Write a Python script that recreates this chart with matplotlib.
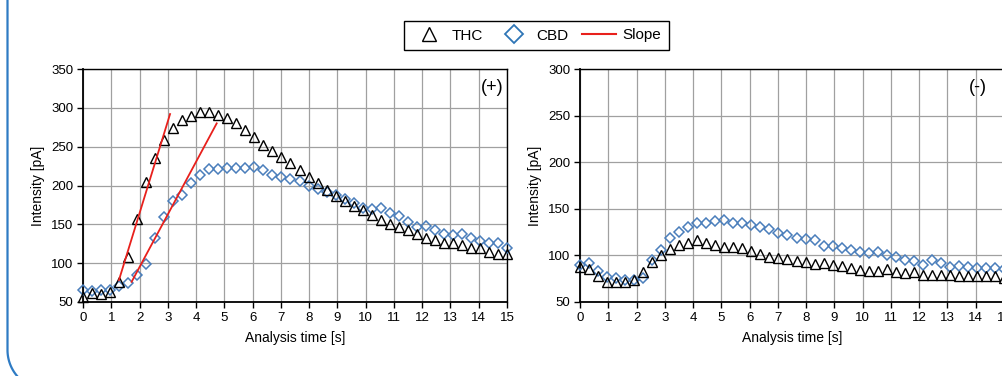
import numpy as np
import matplotlib
matplotlib.use("Agg")
import matplotlib.pyplot as plt
from matplotlib.lines import Line2D

plt.rcParams['font.family'] = ['Liberation Sans', 'DejaVu Sans']

# ---------------- data ----------------
time_s = [0.00, 0.32, 0.64, 0.96, 1.28, 1.60, 1.91, 2.23, 2.55, 2.87, 3.19, 3.51,
          3.83, 4.15, 4.47, 4.79, 5.11, 5.43, 5.74, 6.06, 6.38, 6.70, 7.02, 7.34,
          7.66, 7.98, 8.30, 8.62, 8.94, 9.26, 9.57, 9.89, 10.21, 10.53, 10.85, 11.17,
          11.49, 11.81, 12.13, 12.45, 12.77, 13.09, 13.40, 13.72, 14.04, 14.36, 14.68, 15.00]

thc_pos = [57, 62, 60, 63, 76, 108, 157, 204, 235, 259, 274, 284,
           290, 295, 295, 291, 287, 281, 272, 262, 252, 245, 237, 229,
           220, 211, 203, 194, 186, 180, 174, 168, 162, 155, 150, 147,
           143, 138, 133, 130, 126, 126, 123, 120, 119, 115, 112, 112]
cbd_pos = [65, 64, 66, 66, 71, 74, 85, 99, 133, 160, 180, 188,
           203, 213, 221, 221, 222, 222, 223, 224, 220, 214, 211, 209,
           206, 199, 196, 192, 188, 182, 177, 171, 170, 171, 164, 161,
           153, 147, 148, 143, 138, 136, 137, 132, 128, 126, 126, 120]

thc_neg = [87.5, 85.5, 78, 71, 71, 71, 74, 82, 93, 100, 107, 111,
           113, 116, 113, 111, 109, 109, 108, 105, 101.5, 98, 97, 96,
           94, 92.5, 91, 92, 90, 89, 86.5, 84, 83, 83, 85, 82,
           81, 82, 79.5, 79.5, 79.5, 79.5, 78, 78, 78, 78, 78, 76]
cbd_neg = [90, 92, 83, 76.5, 76, 74, 74, 76, 95, 106, 119, 125,
           131, 135, 135, 136.5, 138, 135, 135, 133, 131, 128.5, 124, 122,
           118.5, 117.5, 117, 110, 110, 108, 106, 104, 103, 104, 100.5, 98,
           95.5, 93.5, 90, 95.5, 92, 88, 89, 88, 86.5, 86.5, 86.5, 85]

slope_thc_t = [1.27, 3.08]
slope_thc_y = [78, 292]
slope_cbd_t = [1.72, 4.73]
slope_cbd_y = [76, 280]

x_ticks = list(range(0, 16))
y_ticks_pos = [50, 100, 150, 200, 250, 300, 350]
y_ticks_neg = [50, 100, 150, 200, 250, 300]

# ---------------- style ----------------
W, H = 1003, 376
fig = plt.figure(figsize=(W / 100, H / 100), dpi=100)
fig.patch.set_facecolor('white')

CBD_COLOR = '#4a7ebb'
SLOPE_COLOR = '#e8201c'
GRID = '#a0a0a0'


def px_rect(x0, x1, ytop, ybot):
    return [x0 / W, 1 - ybot / H, (x1 - x0) / W, (ybot - ytop) / H]


def style_axes(ax, yticks, ylim):
    ax.set_xlim(0, 15)
    ax.set_ylim(*ylim)
    ax.set_xticks(x_ticks)
    ax.set_yticks(yticks)
    ax.grid(True, color=GRID, lw=0.9)
    ax.set_axisbelow(True)
    for side in ['left', 'bottom']:
        ax.spines[side].set_linewidth(1.3)
        ax.spines[side].set_color('black')
    for side in ['top', 'right']:
        ax.spines[side].set_linewidth(1.0)
        ax.spines[side].set_color('black')
    ax.tick_params(direction='out', length=4, width=1, labelsize=9.5,
                   colors='black', pad=3)
    ax.set_xlabel('Analysis time [s]', fontsize=10, labelpad=5)
    ax.set_ylabel('Intensity [pA]', fontsize=10, labelpad=4)


ax1 = fig.add_axes(px_rect(83, 507, 69, 302))
ax2 = fig.add_axes(px_rect(580, 1004, 69, 302))

for ax, thc, cbd, yt, yl in [(ax1, thc_pos, cbd_pos, y_ticks_pos, (50, 350)),
                             (ax2, thc_neg, cbd_neg, y_ticks_neg, (50, 300))]:
    style_axes(ax, yt, yl)
    ax.plot(time_s, cbd, ls='none', marker='D', ms=5.2, mfc='none',
            mec=CBD_COLOR, mew=1.1, clip_on=False, zorder=3)
    ax.plot(time_s, thc, ls='none', marker='^', ms=7, mfc='none',
            mec='black', mew=1.0, clip_on=False, zorder=4)

ax1.plot(slope_thc_t, slope_thc_y, color=SLOPE_COLOR, lw=1.3, zorder=5)
ax1.plot(slope_cbd_t, slope_cbd_y, color=SLOPE_COLOR, lw=1.3, zorder=5)

ax1.text(0.992, 0.955, '(+)', transform=ax1.transAxes, ha='right', va='top',
         fontsize=13)
ax2.text(0.96, 0.955, '(-)', transform=ax2.transAxes, ha='right', va='top',
         fontsize=13)

# legend
handles = [Line2D([], [], ls='none', marker='^', ms=10, mfc='none', mec='black', mew=1.0),
           Line2D([], [], ls='none', marker='D', ms=9, mfc='none', mec='#2e75b6', mew=1.3),
           Line2D([], [], color=SLOPE_COLOR, lw=1.5)]
leg = fig.legend(handles, ['THC', 'CBD', 'Slope'], loc='center',
                 bbox_to_anchor=(536.5 / W, 1 - 35.5 / H), ncol=3, fontsize=11,
                 frameon=True, fancybox=False, framealpha=1, edgecolor='black',
                 handlelength=2.2, handletextpad=0.4, columnspacing=0.9,
                 borderpad=0.5)
leg.get_frame().set_linewidth(1.0)

# blue rounded border on the left
r = 40
theta = np.linspace(np.pi, np.pi + np.arcsin(26 / r), 30)
bx = np.concatenate([[7.5, 7.5], 47.5 + r * np.cos(theta)])
by = np.concatenate([[H + 2, 26], 26 + r * np.sin(theta)])
fig.add_artist(Line2D(bx / W, by / H, transform=fig.transFigure,
                      color='#2e7bc4', lw=1.6))

fig.savefig('out.png', dpi=100)
